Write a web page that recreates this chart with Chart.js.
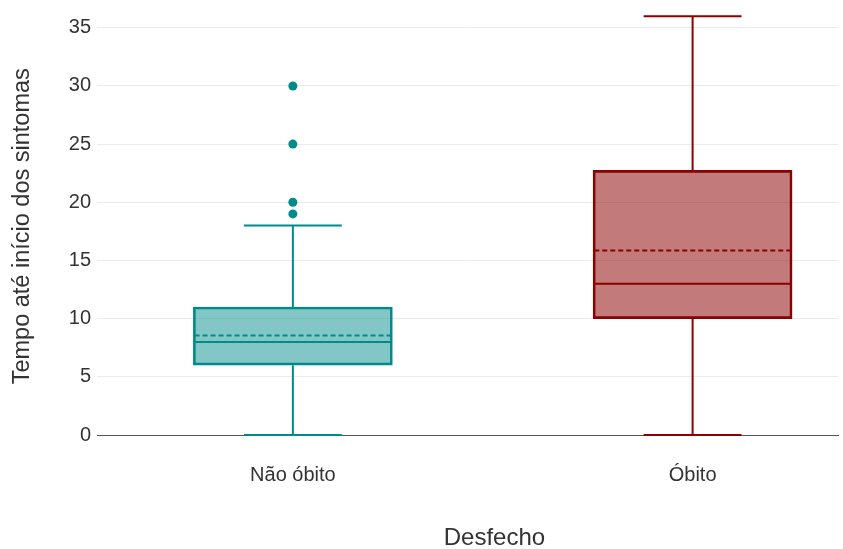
<!DOCTYPE html>
<html><head><meta charset="utf-8">
<script src="https://cdn.jsdelivr.net/npm/chart.js@4"></script>
<style>html,body{margin:0;padding:0;background:#fff}#wrap{width:843px;height:549px}</style>
</head><body><div id="wrap"><canvas id="c" width="843" height="549"></canvas></div>
<script>
const categories = ['Não óbito', 'Óbito'];
const whiskerLow = [0, 0];
const q1 = [6, 10];
const median = [8, 13];
const mean = [8.55, 15.85];
const q3 = [11, 22.75];
const whiskerHigh = [18, 36];
const outliers = [[19, 20, 25, 30], []];
const yTicks = [0, 5, 10, 15, 20, 25, 30, 35];

const lineColors = ['#008B8B', '#8B0000'];
const fillColors = ['rgba(0,139,139,0.49)', 'rgba(139,0,0,0.52)'];
const BOX_HALF = 0.246;   // half box width in category units
const CAP_HALF = 0.1225;  // half whisker-cap width
const FONT = "'Liberation Sans', Arial, sans-serif";

const datasets = [];
datasets.push({
  type: 'bar',
  data: categories.map((c, i) => ({ x: i, y: [q1[i], q3[i]] })),
  backgroundColor: fillColors,
  borderColor: lineColors,
  borderWidth: 2,
  borderSkipped: false,
  barThickness: 199,
  order: 10,
  clip: false
});
function seg(points, color, dash, order) {
  datasets.push({
    type: 'line', data: points, borderColor: color, borderWidth: 2,
    borderDash: dash || [], pointRadius: 0, fill: false, tension: 0,
    order: order, clip: false
  });
}
categories.forEach((c, i) => {
  const col = lineColors[i];
  seg([{ x: i, y: q3[i] }, { x: i, y: whiskerHigh[i] }], col, null, 3);
  seg([{ x: i, y: q1[i] }, { x: i, y: whiskerLow[i] }], col, null, 3);
  seg([{ x: i - CAP_HALF, y: whiskerHigh[i] }, { x: i + CAP_HALF, y: whiskerHigh[i] }], col, null, 3);
  seg([{ x: i - CAP_HALF, y: whiskerLow[i] }, { x: i + CAP_HALF, y: whiskerLow[i] }], col, null, 3);
  seg([{ x: i - BOX_HALF, y: median[i] }, { x: i + BOX_HALF, y: median[i] }], col, null, 2);
  seg([{ x: i - BOX_HALF, y: mean[i] }, { x: i + BOX_HALF, y: mean[i] }], col, [5, 3], 2);
  if (outliers[i].length) {
    datasets.push({
      type: 'scatter', data: outliers[i].map(v => ({ x: i, y: v })),
      backgroundColor: col, borderWidth: 0, pointRadius: 4.5, order: 1, clip: false
    });
  }
});

new Chart(document.getElementById('c'), {
  type: 'bar',
  data: { datasets },
  options: {
    responsive: false,
    devicePixelRatio: 1,
    animation: false,
    layout: { padding: { top: 4, right: 0, left: 0, bottom: 0 } },
    plugins: { legend: { display: false }, tooltip: { enabled: false } },
    scales: {
      x: {
        type: 'linear', min: -0.49, max: 1.365, offset: false,
        afterBuildTicks: s => { s.ticks = categories.map((c, i) => ({ value: i })); },
        afterFit: s => { s.height = 114; s.paddingLeft = 0; s.paddingRight = 0; },
        ticks: { callback: v => categories[v], font: { family: FONT, size: 20 }, color: '#333', padding: 28, maxRotation: 0, autoSkip: false },
        grid: { display: false, drawTicks: false, offset: false },
        border: { display: true, color: '#555', width: 1 },
        title: { display: true, text: '        Desfecho', font: { family: FONT, size: 24, lineHeight: 1 }, color: '#333', padding: { top: 0, bottom: -1 } }
      },
      y: {
        type: 'linear', min: 0, max: 37,
        afterBuildTicks: s => { s.ticks = yTicks.map(v => ({ value: v })); },
        afterFit: s => { s.width = 97; s.paddingTop = 0; s.paddingBottom = 0; },
        ticks: { font: { family: FONT, size: 20 }, color: '#333', padding: 6 },
        grid: { color: '#ebebeb', lineWidth: 1, drawTicks: false },
        border: { display: false },
        title: { display: true, text: 'Tempo até início dos sintomas  ', font: { family: FONT, size: 23.5 }, color: '#333', padding: { top: 8.5, bottom: 0 } }
      }
    }
  }
});
</script></body></html>
